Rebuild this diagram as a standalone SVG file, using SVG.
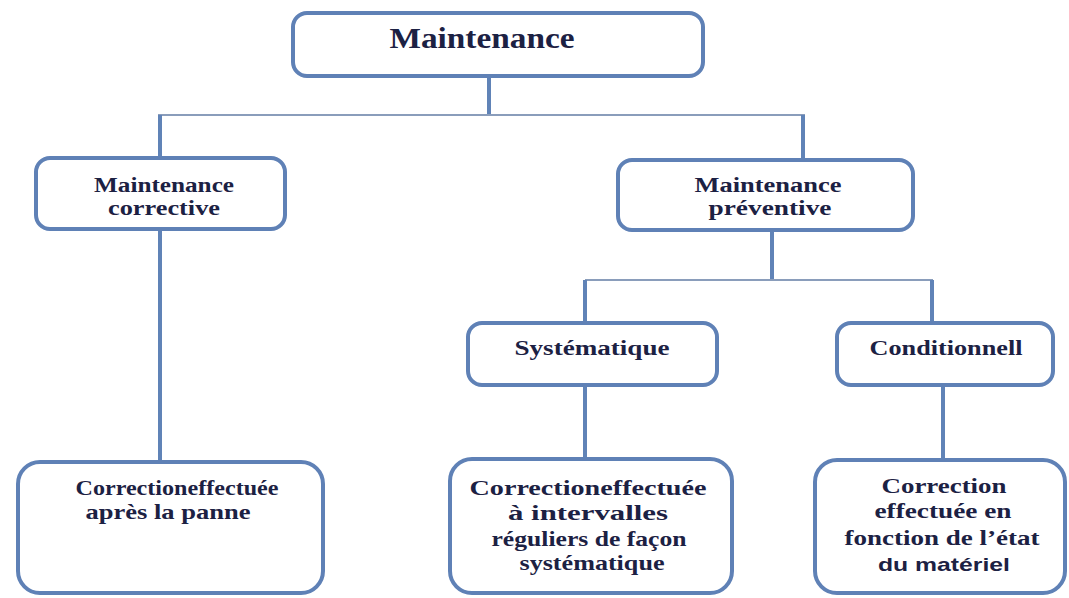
<svg xmlns="http://www.w3.org/2000/svg" width="1069" height="598" viewBox="0 0 1069 598">
<style>
.box{fill:#ffffff;stroke:#5f81b6;stroke-width:4}
.t{font-family:"Liberation Serif","Times New Roman",serif;font-weight:bold;fill:#1c2143;text-anchor:middle}
.s{font-family:"Liberation Sans",Arial,sans-serif;font-weight:bold;fill:#1c2143;text-anchor:middle}
.v{stroke:#6083b7;stroke-width:4;fill:none}
.h{stroke:#8a9dbb;stroke-width:2;fill:none}
</style>
<rect width="1069" height="598" fill="#ffffff"/>
<g id="connectors">
<line class="v" x1="489" y1="76" x2="489" y2="115"/>
<line class="h" x1="158" y1="115" x2="805" y2="115"/>
<line class="v" x1="160" y1="115" x2="160" y2="158"/>
<line class="v" x1="803" y1="115" x2="803" y2="160"/>
<line class="v" x1="160" y1="229" x2="160" y2="462"/>
<line class="v" x1="772" y1="230" x2="772" y2="280"/>
<line class="h" x1="585" y1="280" x2="933" y2="280"/>
<line class="v" x1="585" y1="280" x2="585" y2="323"/>
<line class="v" x1="932" y1="280" x2="932" y2="323"/>
<line class="v" x1="585" y1="385" x2="585" y2="459"/>
<line class="v" x1="943" y1="385" x2="943" y2="460"/>
</g>
<g id="maintenance">
<rect class="box" x="293" y="13" width="410" height="63" rx="14"/>
<text class="t" x="482" y="48" font-size="30" textLength="185" lengthAdjust="spacingAndGlyphs">Maintenance</text>
</g>
<g id="corrective">
<rect class="box" x="36" y="158" width="249" height="71" rx="14"/>
<text class="t" x="164" y="192" font-size="20" textLength="140" lengthAdjust="spacingAndGlyphs">Maintenance</text>
<text class="t" x="164" y="215" font-size="20" textLength="112" lengthAdjust="spacingAndGlyphs">corrective</text>
</g>
<g id="preventive">
<rect class="box" x="618" y="160" width="295" height="70" rx="14"/>
<text class="t" x="768" y="192" font-size="20" textLength="147" lengthAdjust="spacingAndGlyphs">Maintenance</text>
<text class="t" x="770" y="215" font-size="20" textLength="123" lengthAdjust="spacingAndGlyphs">préventive</text>
</g>
<g id="systematique">
<rect class="box" x="468" y="323" width="249" height="62" rx="14"/>
<text class="t" x="592" y="355" font-size="20" textLength="155" lengthAdjust="spacingAndGlyphs">Systématique</text>
</g>
<g id="conditionnell">
<rect class="box" x="837" y="323" width="216" height="62" rx="14"/>
<text class="t" x="946" y="355" font-size="20" textLength="153" lengthAdjust="spacingAndGlyphs">Conditionnell</text>
</g>
<g id="apres-panne">
<rect class="box" x="18" y="462" width="305" height="131" rx="22"/>
<text class="t" x="177" y="495" font-size="21" textLength="203" lengthAdjust="spacingAndGlyphs">Correctioneffectuée</text>
<text class="t" x="168" y="519" font-size="21" textLength="165" lengthAdjust="spacingAndGlyphs">après la panne</text>
</g>
<g id="intervalles">
<rect class="box" x="450" y="459" width="282" height="134" rx="22"/>
<text class="t" x="588" y="495" font-size="21" textLength="237" lengthAdjust="spacingAndGlyphs">Correctioneffectuée</text>
<text class="t" x="588" y="520" font-size="21" textLength="160" lengthAdjust="spacingAndGlyphs">à intervalles</text>
<text class="t" x="589" y="546" font-size="21" textLength="195" lengthAdjust="spacingAndGlyphs">réguliers de façon</text>
<text class="t" x="592" y="570" font-size="21" textLength="145" lengthAdjust="spacingAndGlyphs">systématique</text>
</g>
<g id="etat-materiel">
<rect class="box" x="815" y="460" width="250" height="133" rx="22"/>
<text class="t" x="944" y="493" font-size="21" textLength="125" lengthAdjust="spacingAndGlyphs">Correction</text>
<text class="t" x="943" y="518" font-size="21" textLength="137" lengthAdjust="spacingAndGlyphs">effectuée en</text>
<text class="t" x="942" y="545" font-size="21" textLength="195" lengthAdjust="spacingAndGlyphs">fonction de l’état</text>
<text class="s" x="944" y="571" font-size="19" textLength="132" lengthAdjust="spacingAndGlyphs">du matériel</text>
</g>
</svg>
